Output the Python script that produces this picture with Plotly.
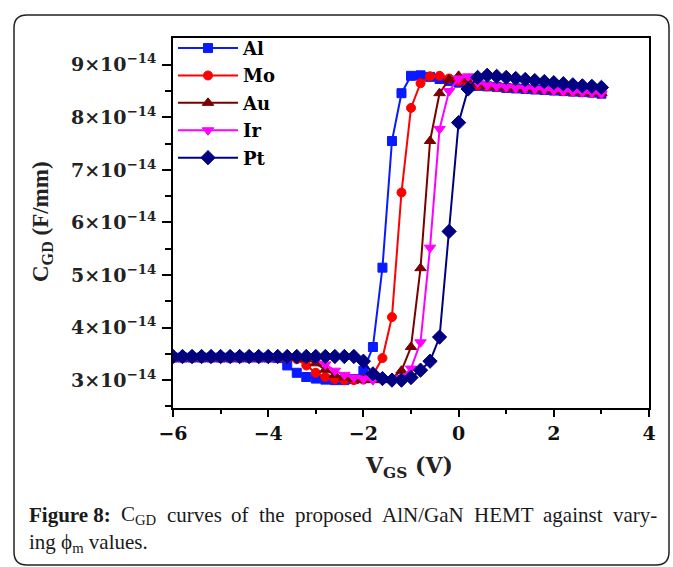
import plotly.graph_objects as go

# Gate-source voltage (V)
VGS = [-6.0, -5.8, -5.6, -5.4, -5.2, -5.0, -4.8, -4.6, -4.4, -4.2, -4.0, -3.8, -3.6, -3.4, -3.2,
       -3.0, -2.8, -2.6, -2.4, -2.2, -2.0, -1.8, -1.6, -1.4, -1.2, -1.0, -0.8, -0.6, -0.4, -0.2,
       0.0, 0.2, 0.4, 0.6, 0.8, 1.0, 1.2, 1.4, 1.6, 1.8, 2.0, 2.2, 2.4, 2.6, 2.8, 3.0]

# C_GD in units of 1e-14 F/mm
C_Al = [3.43, 3.43, 3.43, 3.43, 3.43, 3.43, 3.43, 3.43, 3.43, 3.43, 3.43,
        3.42, 3.28, 3.14, 3.06, 3.03, 3.01, 3.00, 3.00, 3.02, 3.18,
        3.63, 5.14, 7.55, 8.46, 8.79, 8.80, 8.77, 8.73, 8.69, 8.66,
        8.63, 8.60, 8.59, 8.58, 8.56, 8.55, 8.54, 8.53, 8.52, 8.51, 8.50, 8.49, 8.48, 8.47, 8.45]
C_Mo = [3.42, 3.42, 3.42, 3.42, 3.42, 3.42, 3.42, 3.42, 3.42, 3.42, 3.42, 3.42, 3.42,
        3.40, 3.28, 3.14, 3.06, 3.02, 3.00, 3.00, 3.01, 3.10, 3.42,
        4.20, 6.57, 8.18, 8.65, 8.78, 8.79, 8.74, 8.69, 8.64, 8.61,
        8.59, 8.58, 8.57, 8.56, 8.55, 8.54, 8.53, 8.52, 8.50, 8.49, 8.48, 8.47, 8.46]
C_Au = [3.43, 3.43, 3.43, 3.43, 3.43, 3.43, 3.43, 3.43, 3.43, 3.43, 3.43, 3.43, 3.43, 3.43,
        3.40, 3.32, 3.20, 3.10, 3.05, 3.02, 3.00, 3.00, 3.00, 3.04,
        3.18, 3.63, 5.13, 7.55, 8.46, 8.72, 8.79, 8.72, 8.63,
        8.60, 8.58, 8.57, 8.56, 8.55, 8.54, 8.53, 8.51, 8.50, 8.49, 8.48, 8.47, 8.46]
C_Ir = [3.42, 3.42, 3.42, 3.42, 3.42, 3.42, 3.42, 3.42, 3.42, 3.42, 3.42, 3.42, 3.42, 3.42, 3.42,
        3.40, 3.30, 3.18, 3.10, 3.05, 3.02, 3.00, 3.00, 3.00, 3.04,
        3.22, 3.72, 5.52, 7.78, 8.50, 8.74, 8.78, 8.66,
        8.61, 8.59, 8.58, 8.56, 8.55, 8.54, 8.53, 8.51, 8.50, 8.49, 8.48, 8.47, 8.45]
C_Pt = [3.45, 3.45, 3.45, 3.45, 3.45, 3.45, 3.45, 3.45, 3.45, 3.45,
        3.45, 3.45, 3.45, 3.45, 3.45, 3.45, 3.45, 3.45, 3.45, 3.45,
        3.36, 3.12, 3.03, 3.00, 3.00, 3.05, 3.19, 3.36, 3.82, 5.83,
        7.90, 8.54, 8.76, 8.80, 8.78, 8.76, 8.74, 8.72, 8.70, 8.68,
        8.66, 8.64, 8.62, 8.60, 8.59, 8.57]

SCALE = 1e-14
series = [
    ("Al", C_Al, "#0a1aff", "square", 9),
    ("Mo", C_Mo, "#ff0000", "circle", 9),
    ("Au", C_Au, "#7a0000", "triangle-up", 10),
    ("Ir", C_Ir, "#ff00ff", "triangle-down", 10),
    ("Pt", C_Pt, "#000080", "diamond", 11),
]

y_ticks = [3, 4, 5, 6, 7, 8, 9]
y_tick_text = [f"{v}×10<sup>−14</sup>" for v in y_ticks]
x_ticks = [-6, -4, -2, 0, 2, 4]
x_tick_text = ["−6", "−4", "−2", "0", "2", "4"]

caption_words = ["<b>Figure 8:</b>", "C<sub>GD</sub>", "curves", "of", "the", "proposed",
                 "AlN/GaN", "HEMT", "against", "vary-"]
caption_line2 = "ing ϕ<sub>m</sub> values."

WIDE = "DejaVu Serif"
TIMES = "Liberation Serif"

fig = go.Figure()
for name, vals, color, sym, size in series:
    fig.add_trace(go.Scatter(
        x=VGS, y=[v * SCALE for v in vals], name=name, legendgroup=name,
        mode="lines+markers",
        line=dict(color=color, width=2),
        marker=dict(symbol=sym, size=size, color=color, line=dict(color=color, width=1)),
    ))

# plot area in pixels
L, R, T, B = 173, 649, 38, 408
W, H = 673, 567

def px(xp):
    return (xp - L) / (R - L)

def py(yp):
    return (B - yp) / (B - T)

fig.update_layout(
    width=W, height=H,
    margin=dict(l=L, r=W - R, t=T, b=H - B, autoexpand=False),
    paper_bgcolor="white", plot_bgcolor="white",
    font=dict(family=TIMES, color="black"),
    showlegend=True,
    legend=dict(
        x=0.0, y=1.022, xanchor="left", yanchor="top",
        bgcolor="rgba(0,0,0,0)", borderwidth=0,
        font=dict(family=WIDE, size=18, color="black", weight="bold"),
        itemwidth=60, tracegroupgap=1,
    ),
)

fig.update_xaxes(
    range=[-6, 4], tickmode="array", tickvals=x_ticks, ticktext=x_tick_text,
    showgrid=False, zeroline=False,
    showline=True, linecolor="black", linewidth=2, mirror=True,
    ticks="outside", ticklen=7, tickwidth=2, tickcolor="black",
    tickfont=dict(family=WIDE, size=19, color="#111111", weight="bold"),
    minor=dict(tickvals=[-5, -3, -1, 1, 3], ticklen=4, tickwidth=2, tickcolor="black", ticks="outside"),
)
fig.update_yaxes(
    range=[2.47e-14, 9.51e-14], tickmode="array",
    tickvals=[v * SCALE for v in y_ticks], ticktext=y_tick_text,
    showgrid=False, zeroline=False,
    showline=True, linecolor="black", linewidth=2, mirror=True,
    ticks="outside", ticklen=9, tickwidth=2, tickcolor="black",
    ticklabelstandoff=2,
    tickfont=dict(family=WIDE, size=19, color="#222222", weight="bold"),
    minor=dict(tickvals=[v * SCALE for v in [2.5, 3.5, 4.5, 5.5, 6.5, 7.5, 8.5]],
               ticklen=6, tickwidth=2, tickcolor="black", ticks="outside"),
)

# axis titles
fig.add_annotation(xref="paper", yref="paper", x=px(42), y=py(222), text="<b>C<sub>GD</sub> (F/mm)</b>",
                   textangle=-90, showarrow=False, font=dict(family=TIMES, size=23, color="#222222"),
                   xanchor="center", yanchor="middle")
fig.add_annotation(xref="paper", yref="paper", x=px(409), y=py(467), text="<b>V<sub>GS</sub> (V)</b>",
                   showarrow=False, font=dict(family=WIDE, size=22, color="#222222"),
                   xanchor="center", yanchor="middle")

# caption: justified first line (word widths from Times metrics, 1/1000 em)
REG = {' ': 250, 'a': 444, 'c': 444, 'd': 500, 'e': 444, 'f': 333, 'g': 500, 'h': 500, 'i': 278,
       'l': 278, 'n': 500, 'o': 500, 'p': 500, 'r': 333, 's': 389, 't': 278, 'u': 500, 'v': 500,
       'y': 500, 'A': 722, 'C': 667, 'D': 722, 'E': 611, 'G': 722, 'H': 722, 'M': 889, 'N': 722,
       'T': 611, '/': 278, '-': 333}
BOLD = {'F': 611, 'i': 278, 'g': 500, 'u': 556, 'r': 444, 'e': 444, ' ': 250, '8': 500, ':': 333}
CAP_SIZE = 21

def word_width(w):
    if w.startswith("<b>"):
        return sum(BOLD[c] for c in "Figure 8:") * CAP_SIZE / 1000
    if "<sub>" in w:
        return (REG['C'] + 0.7 * (REG['G'] + REG['D'])) * CAP_SIZE / 1000
    return sum(REG[c] for c in w) * CAP_SIZE / 1000

cap_left, cap_right = 27, 655
widths = [word_width(w) for w in caption_words]
gap = (cap_right - cap_left - sum(widths)) / (len(caption_words) - 1)
cap_font = dict(family=TIMES, size=CAP_SIZE, color="#1a1a1a")
xpos = cap_left
for w, wd in zip(caption_words, widths):
    fig.add_annotation(xref="paper", yref="paper", x=px(xpos), y=py(515), text=w,
                       showarrow=False, font=cap_font, xanchor="left", yanchor="middle")
    xpos += wd + gap
fig.add_annotation(xref="paper", yref="paper", x=px(cap_left), y=py(543), text=caption_line2,
                   showarrow=False, font=cap_font, xanchor="left", yanchor="middle")

# rounded frame around the figure
x0, x1 = px(14), px(669)
y0, y1 = py(565), py(15)
rx, ry = 13 / (R - L), 13 / (B - T)
path = (f"M {x0 + rx} {y1} L {x1 - rx} {y1} Q {x1} {y1} {x1} {y1 - ry} "
        f"L {x1} {y0 + ry} Q {x1} {y0} {x1 - rx} {y0} "
        f"L {x0 + rx} {y0} Q {x0} {y0} {x0} {y0 + ry} "
        f"L {x0} {y1 - ry} Q {x0} {y1} {x0 + rx} {y1} Z")
fig.add_shape(type="path", xref="paper", yref="paper", path=path,
              line=dict(color="#222222", width=1.5), fillcolor="rgba(0,0,0,0)", layer="below")

fig.write_html("out.html")
